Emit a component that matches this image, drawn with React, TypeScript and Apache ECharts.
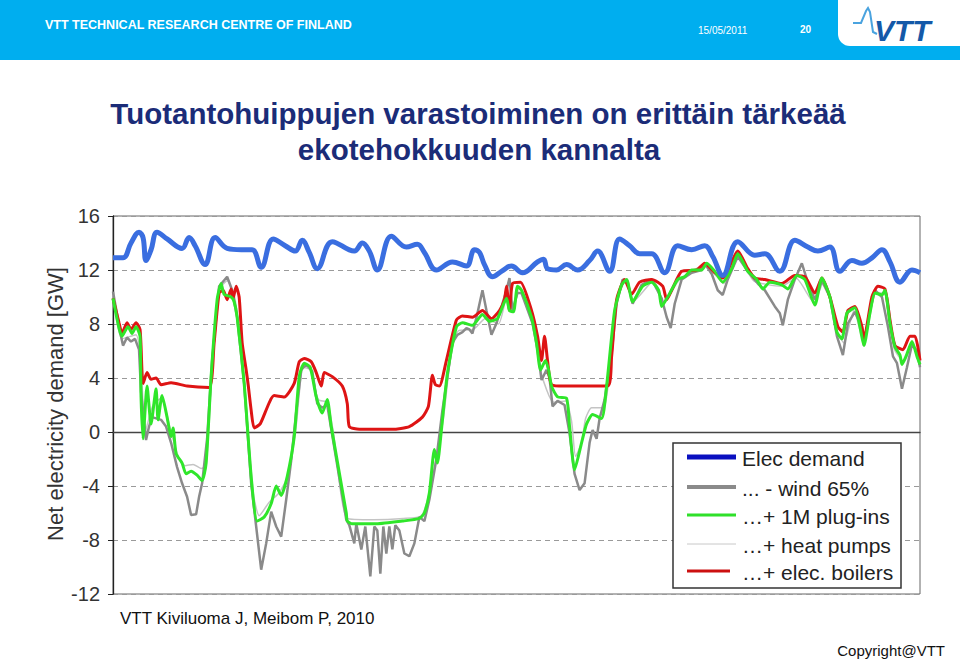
import React, { useEffect, useRef } from "react";
import * as echarts from "echarts";

// x = horizontal position along the time axis (unlabelled), y = GW
const elecDemand: [number, number][] = [
  [0, 12.9], [10, 12.9], [18, 14.0], [26, 14.8], [30, 14.4], [33, 12.7], [38, 13.5], [44, 14.8], [54, 14.3],
  [69, 13.6], [76, 14.4], [82, 13.8], [92, 12.4], [102, 14.4], [114, 13.6], [128, 13.5], [139, 13.5], [148, 12.2],
  [160, 14.3], [172, 13.8], [182, 13.4], [189, 14.2], [196, 13.3], [204, 12.1], [219, 14.1], [241, 13.4], [249, 14.0],
  [256, 13.4], [264, 12.0], [278, 14.5], [293, 13.7], [304, 13.9], [311, 13.3], [323, 12.0], [339, 12.6], [353, 12.3],
  [361, 13.5], [366, 13.3], [371, 12.4], [379, 11.5], [388, 11.9], [398, 12.3], [409, 11.8], [424, 12.6], [430, 12.8],
  [434, 12.1], [443, 12.0], [453, 12.4], [464, 12.0], [476, 12.7], [484, 13.4], [496, 11.9], [506, 14.3], [516, 13.8],
  [526, 13.2], [538, 13.2], [551, 11.8], [564, 13.8], [578, 13.5], [591, 13.8], [599, 13.0], [609, 11.6], [624, 14.1],
  [641, 13.1], [651, 13.2], [666, 11.9], [681, 14.2], [694, 13.7], [704, 13.4], [716, 13.7], [726, 11.9], [738, 12.7],
  [748, 12.5], [758, 12.9], [768, 13.5], [776, 12.6], [786, 11.1], [798, 12.0], [806, 11.8],
];

const windMinus: [number, number][] = [
  [0, 10.4], [8, 7.1], [10, 6.4], [14, 7.0], [18, 6.7], [22, 6.9], [26, 6.1], [28, 3.0], [33, -0.6], [36, 0.4],
  [39, 1.1], [48, 0.9], [53, 0.4], [58, -0.8], [64, -2.6], [69, -3.8], [74, -4.8], [78, -6.15], [83, -6.1], [86, -4.8],
  [89, -3.8], [94, -0.5], [99, 5.3], [106, 10.8], [114, 11.5], [119, 10.5], [124, 8.5], [131, 3.6], [138, -3.8],
  [143, -7.0], [148, -10.2], [153, -8.25], [158, -5.9], [163, -7.0], [168, -7.75], [173, -5.0], [178, -2.1], [183, 1.5],
  [188, 4.6], [193, 5.0], [199, 4.5], [204, 2.1], [209, 1.8], [214, 2.0], [218, 0.2], [233, -6.5], [236, -6.9],
  [241, -8.25], [243, -6.8], [248, -8.7], [252, -7.0], [257, -10.7], [261, -7.0], [264, -7.3], [267, -10.5], [270, -7.0],
  [273, -9.0], [276, -7.0], [279, -8.7], [282, -6.9], [286, -7.3], [291, -9.0], [296, -9.2], [301, -8.25], [306, -6.3],
  [311, -6.6], [316, -5.0], [323, -2.0], [329, 1.6], [339, 6.6], [344, 7.2], [349, 7.4], [353, 7.7], [356, 7.6],
  [359, 7.3], [364, 8.8], [369, 10.5], [373, 9.0], [378, 7.2], [383, 8.05], [393, 10.5], [396, 11.4], [399, 9.0],
  [404, 10.3], [408, 10.3], [419, 8.05], [424, 6.1], [428, 3.85], [433, 4.6], [436, 4.0], [439, 1.9], [444, 2.3],
  [451, 2.0], [456, -0.1], [461, -3.1], [466, -4.3], [471, -3.8], [476, -0.8], [479, 0.15], [483, -0.5], [486, 1.0],
  [491, 2.4], [498, 5.8], [503, 9.5], [509, 11.3], [514, 11.1], [519, 9.5], [528, 10.9], [538, 11.3], [548, 9.9],
  [553, 8.5], [557, 7.7], [561, 9.5], [568, 11.3], [578, 11.8], [588, 12.0], [591, 12.5], [598, 11.7], [604, 10.5],
  [609, 10.15], [614, 11.3], [624, 13.0], [634, 11.9], [644, 11.0], [651, 10.5], [661, 9.3], [666, 8.8], [669, 7.9],
  [674, 9.8], [681, 11.3], [688, 12.5], [693, 11.3], [701, 9.8], [708, 11.2], [716, 10.0], [723, 7.1], [729, 5.7],
  [734, 8.05], [741, 8.9], [748, 7.7], [750, 6.4], [756, 9.0], [761, 10.5], [768, 10.0], [774, 7.8], [779, 5.6],
  [783, 5.1], [788, 3.2], [793, 4.8], [798, 6.5], [803, 6.0], [806, 4.8],
];

const plugIns: [number, number][] = [
  [0, 9.9], [6, 7.7], [9, 7.1], [15, 7.8], [19, 7.3], [23, 7.8], [27, 7.1], [28, 2.6], [30, -0.5], [34, 3.4],
  [38, 0.6], [43, 3.2], [45, 0.9], [49, 2.7], [54, 1.1], [58, -0.35], [60, 0.3], [63, -1.6], [69, -2.3], [73, -3.1],
  [78, -2.9], [84, -3.2], [89, -3.6], [93, -2.3], [98, 4.1], [104, 9.8], [108, 11.0], [111, 10.2], [118, 10.0],
  [121, 9.65], [124, 8.5], [131, 3.6], [138, -3.3], [144, -6.6], [151, -6.3], [158, -5.3], [163, -4.0], [168, -4.7],
  [174, -3.3], [181, -0.35], [186, 4.1], [191, 5.1], [197, 4.8], [203, 2.6], [209, 1.4], [214, 2.4], [218, 0.4],
  [233, -6.0], [234, -6.6], [239, -6.8], [263, -6.8], [289, -6.6], [306, -6.4], [311, -6.0], [316, -4.5], [321, -1.3],
  [324, -2.3], [328, 0.15], [334, 4.35], [343, 7.8], [349, 8.1], [359, 7.9], [369, 8.7], [376, 8.2], [384, 8.4],
  [393, 9.9], [396, 9.0], [400, 8.9], [404, 10.8], [408, 10.5], [418, 8.5], [423, 6.6], [427, 4.6], [432, 5.3],
  [435, 4.6], [438, 3.4], [444, 2.6], [453, 2.5], [456, 0.4], [461, -2.8], [468, -0.8], [473, 0.6], [479, 1.3],
  [488, 1.0], [493, 3.4], [501, 9.0], [508, 10.9], [513, 11.3], [519, 9.65], [529, 10.8], [538, 11.1], [545, 10.5],
  [548, 9.3], [554, 10.0], [564, 11.3], [571, 11.5], [578, 12.0], [588, 12.0], [593, 12.5], [601, 11.9], [609, 11.1],
  [618, 12.1], [624, 13.2], [634, 11.9], [643, 11.3], [649, 10.6], [656, 11.1], [668, 10.9], [674, 10.6], [683, 11.6],
  [691, 11.3], [701, 9.4], [708, 11.4], [716, 10.0], [723, 7.4], [728, 6.9], [733, 8.8], [741, 9.2], [746, 7.8],
  [750, 6.4], [756, 8.8], [761, 10.3], [768, 10.15], [771, 10.5], [776, 8.05], [781, 6.3], [786, 5.7], [788, 5.0],
  [792, 5.6], [798, 6.7], [803, 5.6], [806, 5.0],
];

const heatPumps: [number, number][] = [
  [0, 10.2], [9, 6.9], [23, 7.2], [28, 5.0], [32, 0.0], [40, 2.0], [48, 2.5], [58, 0.0], [66, -2.0], [72, -2.5],
  [80, -2.4], [88, -2.7], [93, -2.5], [99, 4.5], [106, 10.5], [114, 11.2], [122, 9.8], [131, 3.8], [140, -4.5],
  [146, -6.2], [156, -5.2], [166, -4.5], [175, -3.2], [183, 0.5], [190, 4.8], [197, 4.6], [205, 2.4], [214, 2.2],
  [220, 0.0], [234, -6.4], [260, -6.5], [290, -6.4], [308, -6.2], [316, -4.5], [324, -1.5], [330, 1.0], [338, 6.0],
  [345, 7.5], [360, 7.6], [372, 8.4], [385, 8.0], [394, 10.2], [400, 9.0], [406, 10.8], [420, 8.3], [428, 4.3],
  [440, 2.2], [452, 2.3], [458, 0.8], [462, -1.8], [468, -0.8], [472, 1.0], [478, 1.8], [490, 1.8], [495, 3.8],
  [503, 9.6], [512, 11.2], [520, 9.7], [540, 11.2], [550, 9.6], [566, 11.3], [590, 12.3], [602, 11.6], [610, 11.0],
  [624, 13.1], [640, 11.2], [668, 10.8], [682, 11.4], [700, 9.6], [710, 11.2], [724, 7.3], [730, 6.6], [740, 9.0],
  [750, 6.6], [762, 10.3], [772, 10.3], [780, 6.2], [790, 5.2], [798, 6.5], [806, 5.2],
];

const elecBoilers: [number, number][] = [
  [0, 9.9], [6, 8.1], [9, 7.3], [14, 8.1], [18, 7.6], [23, 8.1], [27, 7.6], [29, 4.4], [30, 3.6], [34, 4.4],
  [38, 3.9], [43, 4.0], [48, 3.5], [58, 3.65], [74, 3.4], [96, 3.3], [101, 6.6], [106, 10.3], [110, 10.5], [114, 9.8],
  [118, 10.6], [120, 9.9], [123, 10.8], [126, 10.0], [129, 6.6], [133, 4.6], [135, 3.5], [138, 1.6], [141, 0.3],
  [147, 0.6], [161, 2.7], [171, 2.6], [181, 3.6], [186, 5.2], [191, 5.45], [198, 5.2], [203, 4.4], [208, 3.4],
  [211, 4.4], [219, 4.1], [229, 3.4], [234, 2.1], [236, 0.4], [246, 0.2], [279, 0.2], [296, 0.4], [309, 1.1],
  [315, 1.9], [319, 4.2], [322, 3.5], [326, 3.4], [333, 5.3], [343, 8.3], [349, 8.6], [359, 8.5], [369, 9.0],
  [378, 8.4], [386, 9.0], [391, 9.8], [393, 10.8], [396, 9.0], [399, 11.0], [407, 11.1], [418, 9.0], [424, 7.1],
  [428, 5.3], [431, 7.1], [434, 5.3], [438, 3.5], [451, 3.4], [494, 3.4], [498, 5.6], [503, 9.8], [511, 11.3],
  [518, 10.2], [526, 11.1], [538, 11.3], [549, 10.8], [553, 9.8], [558, 10.5], [568, 11.9], [583, 12.0], [591, 12.5],
  [601, 11.8], [609, 11.4], [624, 13.4], [634, 12.1], [641, 11.4], [651, 11.3], [668, 11.0], [681, 11.6], [691, 11.5],
  [701, 10.3], [708, 11.4], [716, 10.0], [724, 7.8], [729, 7.4], [734, 9.0], [741, 9.3], [748, 7.8], [750, 6.9],
  [758, 10.0], [764, 10.8], [771, 10.6], [776, 8.3], [781, 6.4], [789, 6.1], [796, 7.1], [801, 7.1], [806, 5.3],
];

const legendNames = ["Elec demand", "... - wind 65%", "…+ 1M plug-ins", "…+ heat pumps", "…+ elec. boilers"];
const yTicks = { min: -12, max: 16, interval: 4 };

const FONT = "'Liberation Sans', Arial, Helvetica, sans-serif";

export default function App() {
  const ref = useRef<HTMLDivElement>(null);
  useEffect(() => {
    document.body.style.margin = "0";
    const chart = echarts.init(ref.current!, null, { renderer: "svg" });
    const legendStyles = [
      { color: "#0a10c0", width: 5, len: 49 },
      { color: "#8a8a8a", width: 4, len: 49 },
      { color: "#2fe02a", width: 3, len: 49 },
      { color: "#c8c8c8", width: 1, len: 49 },
      { color: "#cc1010", width: 3, len: 43 },
    ];
    const legendRows = [457, 487, 515, 544, 571];
    const legendGraphics: any[] = [
      { type: "rect", shape: { x: 673, y: 443, width: 228, height: 145 }, style: { fill: "#fff", stroke: "#333", lineWidth: 1.5 }, z: 100 },
    ];
    legendNames.forEach((n, i) => {
      const s = legendStyles[i];
      legendGraphics.push({
        type: "line",
        shape: { x1: 687, y1: legendRows[i], x2: 687 + s.len, y2: legendRows[i] },
        style: { stroke: s.color, lineWidth: s.width },
        z: 101,
      });
      legendGraphics.push({
        type: "text",
        x: 742,
        y: legendRows[i] + 1,
        style: { text: n, fill: "#222", fontSize: 21, fontFamily: FONT, align: "left", verticalAlign: "middle" },
        z: 101,
      });
    });

    const option: any = {
      animation: false,
      grid: { left: 113, right: 40, top: 216, bottom: 65, show: true, borderColor: "#666", borderWidth: 1 },
      xAxis: {
        type: "value",
        min: 0,
        max: 806,
        axisLabel: { show: false },
        axisTick: { show: false },
        splitLine: { show: false },
        axisLine: { show: true, onZero: true, lineStyle: { color: "#444", width: 1.3 } },
      },
      yAxis: {
        type: "value",
        min: yTicks.min,
        max: yTicks.max,
        interval: yTicks.interval,
        axisLine: { show: true, onZero: false, lineStyle: { color: "#222", width: 1.3 } },
        axisTick: { show: true, length: 5, lineStyle: { color: "#222" } },
        axisLabel: { fontSize: 20, color: "#333", fontFamily: FONT, margin: 13 },
        splitLine: { show: true, lineStyle: { type: [5, 4], color: "#9a9a9a", width: 1 } },
      },
      series: [
        { name: legendNames[3], type: "line", data: heatPumps, symbol: "none", smooth: 0.2, lineStyle: { color: "#c4c4c4", width: 1.5 } },
        { name: legendNames[1], type: "line", data: windMinus, symbol: "none", smooth: false, lineStyle: { color: "#8a8a8a", width: 2.5 } },
        { name: legendNames[4], type: "line", data: elecBoilers, symbol: "none", smooth: 0.2, lineStyle: { color: "#de1414", width: 3 } },
        { name: legendNames[2], type: "line", data: plugIns, symbol: "none", smooth: 0.2, lineStyle: { color: "#2fe62a", width: 3 } },
        { name: legendNames[0], type: "line", data: elecDemand, symbol: "none", smooth: 0.4, lineStyle: { color: "#3a6ee0", width: 5 } },
      ],
      graphic: [
        { type: "rect", shape: { x: 0, y: 0, width: 960, height: 60 }, style: { fill: "#00aeef" }, z: 1 },
        { type: "rect", shape: { x: 838, y: 0, width: 130, height: 46, r: [0, 0, 0, 12] }, style: { fill: "#fff" }, z: 2 },
        {
          type: "polyline",
          shape: { points: [[853, 23], [861, 23], [866, 11], [868, 8], [870, 12], [873, 32], [877, 34]] },
          style: { stroke: "#4aa3df", lineWidth: 2, fill: null },
          z: 3,
        },
        { type: "text", x: 874, y: 30, style: { text: "VTT", fill: "#1459a8", fontSize: 30, fontWeight: 900, fontStyle: "italic", fontFamily: FONT, align: "left", verticalAlign: "middle" }, z: 3 },
        { type: "text", x: 45, y: 25, style: { text: "VTT TECHNICAL RESEARCH CENTRE OF FINLAND", fill: "#fff", fontSize: 12.5, fontWeight: "bold", fontFamily: FONT, align: "left", verticalAlign: "middle" }, z: 3 },
        { type: "text", x: 698, y: 30, style: { text: "15/05/2011", fill: "#fff", fontSize: 10, fontFamily: FONT, align: "left", verticalAlign: "middle" }, z: 3 },
        { type: "text", x: 800, y: 29, style: { text: "20", fill: "#fff", fontSize: 10, fontWeight: "bold", fontFamily: FONT, align: "left", verticalAlign: "middle" }, z: 3 },
        { type: "text", x: 478, y: 113, style: { text: "Tuotantohuippujen varastoiminen on erittäin tärkeää", fill: "#1b2c78", fontSize: 29.5, fontWeight: "bold", fontFamily: FONT, align: "center", verticalAlign: "middle" }, z: 3 },
        { type: "text", x: 479, y: 149, style: { text: "ekotehokkuuden kannalta", fill: "#1b2c78", fontSize: 29.5, fontWeight: "bold", fontFamily: FONT, align: "center", verticalAlign: "middle" }, z: 3 },
        { type: "text", x: 55, y: 404, rotation: Math.PI / 2, style: { text: "Net electricity demand [GW]", fill: "#333", fontSize: 22, fontFamily: FONT, align: "center", verticalAlign: "middle" }, z: 3 },
        { type: "text", x: 120, y: 618, style: { text: "VTT Kiviluoma J, Meibom P, 2010", fill: "#111", fontSize: 17, fontFamily: FONT, align: "left", verticalAlign: "middle" }, z: 3 },
        { type: "text", x: 945, y: 650, style: { text: "Copyright@VTT", fill: "#111", fontSize: 15, fontFamily: FONT, align: "right", verticalAlign: "middle" }, z: 3 },
        ...legendGraphics,
      ],
    };
    chart.setOption(option);
    return () => chart.dispose();
  }, []);
  return <div ref={ref} style={{ width: 960, height: 659 }} />;
}
